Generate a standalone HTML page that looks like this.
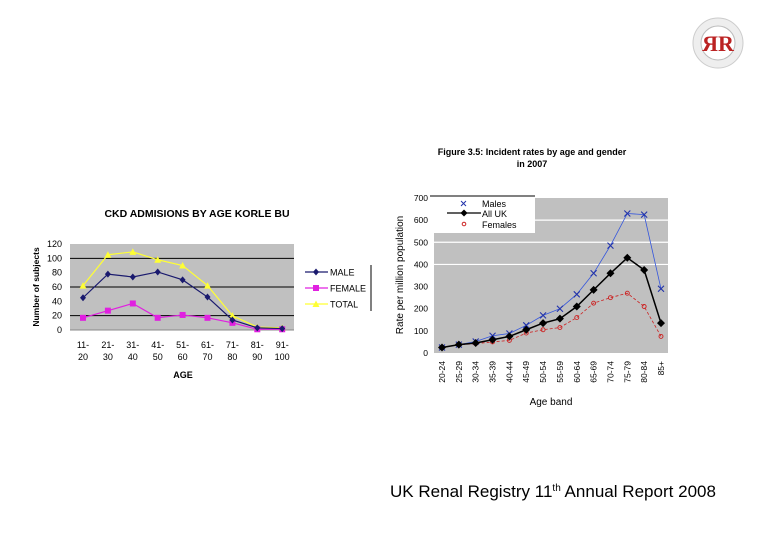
<!DOCTYPE html>
<html><head><meta charset="utf-8"><style>
body{margin:0;background:#fff;}
svg{display:block;font-family:"Liberation Sans",Arial,sans-serif;}
</style></head><body>
<svg id="s" width="780" height="540" viewBox="0 0 780 540" xmlns="http://www.w3.org/2000/svg">
<g>
<circle cx="718" cy="43" r="25" fill="#eee" stroke="#ccc"/>
<circle cx="718" cy="43" r="17" fill="#fff" stroke="#bbb"/>
<text x="718" y="51" text-anchor="middle" font-family="Liberation Serif,serif" font-weight="bold" font-size="22" fill="#b22">ЯR</text>
</g>
<text x="390" y="497" font-size="17" fill="#000" textLength="326" lengthAdjust="spacingAndGlyphs">UK Renal Registry 11<tspan font-size="10" dy="-6">th</tspan><tspan dy="6"> Annual Report 2008</tspan></text>
<g id="left"></g>
<g id="right"></g>
</svg>
<script>
const NS="http://www.w3.org/2000/svg";
function el(p,t,a,txt){const e=document.createElementNS(NS,t);for(const k in a)e.setAttribute(k,a[k]);if(txt!==undefined)e.textContent=txt;p.appendChild(e);return e;}

// ---- Left chart data ----
const ageCats=["11-\n20","21-\n30","31-\n40","41-\n50","51-\n60","61-\n70","71-\n80","81-\n90","91-\n100"];
const maleVals=[45,78,74,81,70,46,14,3,2];
const femaleVals=[17,27,37,17,21,17,10,1,1];
const totalVals=[62,105,109,98,90,62,20,4,3];
const leftTicks=[0,20,40,60,80,100,120];

// ---- Right chart data ----
const bandCats=["20-24","25-29","30-34","35-39","40-44","45-49","50-54","55-59","60-64","65-69","70-74","75-79","80-84","85+"];
const ukMales=[25,38,52,78,88,125,170,200,265,360,485,630,625,290];
const ukAll=[25,38,45,60,75,105,135,155,210,285,360,430,375,135];
const ukFemales=[25,37,42,50,57,90,105,115,160,225,250,270,210,75];
const rightTicks=[0,100,200,300,400,500,600,700];

// Left chart
(function(){
const g=document.getElementById('left');
const L=70,R=294,T=244,B=330,x0=83,dx=24.9;
const y=v=>B-(v/120)*(B-T);
const x=i=>x0+i*dx;
const bg=el(g,'rect',{x:L,y:T,width:R-L,height:B-T,fill:'#c0c0c0'});

[20,60,100].forEach(v=>{const l=el(g,'line',{x1:L,x2:R,y1:y(v),y2:y(v),stroke:'#000','stroke-width':1});
});
el(g,'line',{x1:L,x2:R,y1:B,y2:B,stroke:'#888'});
leftTicks.forEach(v=>{const t=el(g,'text',{x:62,y:y(v)+3,'text-anchor':'end','font-size':9},v);
});
ageCats.forEach((c,i)=>{const p=c.split('\n');
const t=el(g,'text',{x:x(i),y:348,'text-anchor':'middle','font-size':9},p[0]);

el(g,'text',{x:x(i),y:360,'text-anchor':'middle','font-size':9},p[1]);});
const tt=el(g,'text',{x:197,y:217,'text-anchor':'middle','font-size':10.5,'font-weight':'bold'},'CKD ADMISIONS BY AGE KORLE BU');

const xt=el(g,'text',{x:183,y:378,'text-anchor':'middle','font-size':9,'font-weight':'bold'},'AGE');

const yt=el(g,'text',{x:0,y:0,'text-anchor':'middle','font-size':8.5,'font-weight':'bold',transform:'translate(39,287) rotate(-90)'},'Number of subjects');

const series=[[totalVals,'#ffff33','tri','TOTAL'],[femaleVals,'#e020e0','sq','FEMALE'],[maleVals,'#1a1a6e','dia','MALE']];
function mark(p,cx,cy,type,col){
 if(type=='tri')return el(p,'path',{d:`M${cx},${cy-3.5}L${cx+3.5},${cy+3}L${cx-3.5},${cy+3}Z`,fill:col});
 if(type=='sq')return el(p,'rect',{x:cx-3,y:cy-3,width:6,height:6,fill:col});
 return el(p,'path',{d:`M${cx},${cy-3.5}L${cx+3},${cy}L${cx},${cy+3.5}L${cx-3},${cy}Z`,fill:col});}
series.forEach(([vals,col,type,name])=>{
 const pl=el(g,'polyline',{points:vals.map((v,i)=>x(i)+','+y(v)).join(' '),fill:'none',stroke:col,'stroke-width':1.2});
 
 vals.forEach((v,i)=>{const m=mark(g,x(i),y(v),type,col);
 });
});
const legY={MALE:272,FEMALE:288,TOTAL:304};
el(g,'line',{x1:371,x2:371,y1:265,y2:311,stroke:'#000'});
series.forEach(([vals,col,type,name])=>{
 const yy=legY[name];
 el(g,'line',{x1:305,x2:328,y1:yy,y2:yy,stroke:col,'stroke-width':1.2});
 mark(g,316,yy,type,col);
 const t=el(g,'text',{x:330,y:yy+3.5,'font-size':9},name);
 
});
})();

// Right chart
(function(){
const g=document.getElementById('right');
const L=434,R=668,T=198,B=353,x0=442,dx=(661-442)/13;
const y=v=>B-(v/700)*(B-T);
const x=i=>x0+i*dx;
const bg=el(g,'rect',{x:L,y:T,width:R-L,height:B-T,fill:'#c0c0c0'});

[400,500,600].forEach(v=>{const l=el(g,'line',{x1:L,x2:R,y1:y(v),y2:y(v),stroke:'#fff','stroke-width':1.2});
});
rightTicks.forEach(v=>{const t=el(g,'text',{x:428,y:y(v)+3,'text-anchor':'end','font-size':8.5},v);
});
bandCats.forEach((c,i)=>{const t=el(g,'text',{x:0,y:0,'text-anchor':'end','font-size':8.5,transform:`translate(${x(i)+3},361) rotate(-90)`},c);
});
const t1=el(g,'text',{x:532,y:155,'text-anchor':'middle','font-size':9,'font-weight':'bold'},'Figure 3.5:  Incident  rates by age and gender');

el(g,'text',{x:532,y:167,'text-anchor':'middle','font-size':9,'font-weight':'bold'},'in 2007');
const xt=el(g,'text',{x:551,y:405,'text-anchor':'middle','font-size':10},'Age band');

const yt=el(g,'text',{x:0,y:0,'text-anchor':'middle','font-size':10,transform:'translate(403,275) rotate(-90)'},'Rate per million population');

const pm=el(g,'polyline',{points:ukMales.map((v,i)=>x(i)+','+y(v)).join(' '),fill:'none',stroke:'#3355dd','stroke-width':0.8});

ukMales.forEach((v,i)=>{const c=el(g,'path',{d:`M${x(i)-3},${y(v)-3}L${x(i)+3},${y(v)+3}M${x(i)-3},${y(v)+3}L${x(i)+3},${y(v)-3}`,stroke:'#2233aa','stroke-width':1.1});
});
const pf=el(g,'polyline',{points:ukFemales.map((v,i)=>x(i)+','+y(v)).join(' '),fill:'none',stroke:'#cc2222','stroke-width':0.8,'stroke-dasharray':'3,2'});

ukFemales.forEach((v,i)=>{const c=el(g,'circle',{cx:x(i),cy:y(v),r:2,fill:'none',stroke:'#cc2222','stroke-width':0.9});
});
const pa=el(g,'polyline',{points:ukAll.map((v,i)=>x(i)+','+y(v)).join(' '),fill:'none',stroke:'#000','stroke-width':1.5});

ukAll.forEach((v,i)=>{const c=el(g,'path',{d:`M${x(i)},${y(v)-4}L${x(i)+4},${y(v)}L${x(i)},${y(v)+4}L${x(i)-4},${y(v)}Z`,fill:'#000'});
});
const lg=el(g,'g',{});

el(lg,'rect',{x:430,y:197,width:105,height:36,fill:'#fff'});
el(lg,'line',{x1:430,x2:535,y1:196,y2:196,stroke:'#000'});
el(lg,'path',{d:'M461,201L466,206M461,206L466,201',stroke:'#2233aa'});
el(lg,'text',{x:482,y:207,'font-size':9},'Males');
el(lg,'line',{x1:447,x2:481,y1:213,y2:213,stroke:'#000','stroke-width':1.3});
el(lg,'path',{d:'M464,209.5L467.5,213L464,216.5L460.5,213Z',fill:'#000'});
el(lg,'text',{x:482,y:217,'font-size':9},'All UK');
el(lg,'circle',{cx:464,cy:224,r:1.8,fill:'none',stroke:'#cc2222'});
el(lg,'text',{x:482,y:228,'font-size':9},'Females');
})();
</script>
</body></html>
